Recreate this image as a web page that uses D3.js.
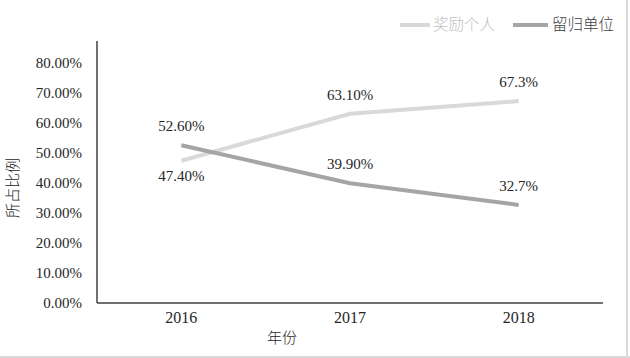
<!DOCTYPE html>
<html>
<head>
<meta charset="utf-8">
<script src="https://cdn.jsdelivr.net/npm/d3@7"></script>
<style>
  body { margin: 0; background: #fff; }
  svg { display: block; }
  .serif { font-family: "Liberation Serif", "DejaVu Serif", serif; fill: #262626; }
  .cjk { font-family: "Noto Sans CJK SC", sans-serif; font-weight: 300; }
</style>
</head>
<body>
<div id="chart"></div>
<script>
// data
var years = ['2016', '2017', '2018'];
var yTicks = [0, 0.1, 0.2, 0.3, 0.4, 0.5, 0.6, 0.7, 0.8];
var rewardPerson = [0.474, 0.631, 0.673];   // 奖励个人
var keepUnit = [0.526, 0.399, 0.327];       // 留归单位
var rewardLabels = ['47.40%', '63.10%', '67.3%'];
var unitLabels = ['52.60%', '39.90%', '32.7%'];

var series = [
  {name: '奖励个人', values: rewardPerson, labels: rewardLabels, color: '#d9d9d9', textColor: '#bfbfbf', pos: ['below', 'above', 'above']},
  {name: '留归单位', values: keepUnit, labels: unitLabels, color: '#a5a5a5', textColor: '#404040', pos: ['above', 'above', 'above']}
];

var width = 630, height = 358;
var plotLeft = 97, plotRight = 603, plotTop = 41, plotBottom = 303;

var svg = d3.select('#chart')
  .append('svg')
  .attr('width', width)
  .attr('height', height);

// frame edges (right and bottom)
svg.append('line')
  .attr('x1', 627).attr('y1', 0).attr('x2', 627).attr('y2', height)
  .attr('stroke', '#d9d9d9').attr('stroke-width', 2);
svg.append('line')
  .attr('x1', 0).attr('y1', 357).attr('x2', width).attr('y2', 357)
  .attr('stroke', '#d9d9d9').attr('stroke-width', 2);

var x = d3.scaleBand()
  .domain(years)
  .range([plotLeft, plotRight]);

var y = d3.scaleLinear()
  .domain([0, 0.8])
  .range([plotBottom, 63]);

// y axis
var yAxis = svg.append('g')
  .attr('transform', `translate(${plotLeft},0)`)
  .call(d3.axisLeft(y).tickValues(yTicks).tickSize(0).tickPadding(15)
    .tickFormat(function(d){ return (d * 100).toFixed(2) + '%'; }));
yAxis.select('.domain').remove();
yAxis.selectAll('text')
  .attr('class', 'serif')
  .style('font-size', '15px')
  .attr('fill', '#262626');

// x axis
var xAxis = svg.append('g')
  .attr('transform', `translate(0,${plotBottom})`)
  .call(d3.axisBottom(x).tickSize(0).tickPadding(9));
xAxis.select('.domain').remove();
xAxis.selectAll('text')
  .attr('class', 'serif')
  .style('font-size', '16px')
  .attr('fill', '#262626');

// axis lines
svg.append('line')
  .attr('x1', plotLeft).attr('y1', plotTop).attr('x2', plotLeft).attr('y2', plotBottom)
  .attr('stroke', '#404040').attr('stroke-width', 1.5);
svg.append('line')
  .attr('x1', plotLeft).attr('y1', plotBottom).attr('x2', plotRight).attr('y2', plotBottom)
  .attr('stroke', '#404040').attr('stroke-width', 1.5);

// axis titles
svg.append('text')
  .attr('class', 'cjk')
  .attr('x', 282).attr('y', 343)
  .attr('text-anchor', 'middle')
  .style('font-size', '15px')
  .attr('fill', '#262626')
  .text('年份');

svg.append('text')
  .attr('class', 'cjk')
  .attr('transform', 'translate(18,188) rotate(-90)')
  .attr('text-anchor', 'middle')
  .style('font-size', '15px')
  .attr('fill', '#262626')
  .text('所占比例');

var line = d3.line()
  .x(function(d, i){ return x(years[i]) + x.bandwidth() / 2; })
  .y(function(d){ return y(d); });

series.forEach(function(s){
  svg.append('path')
    .datum(s.values)
    .attr('d', line)
    .attr('fill', 'none')
    .attr('stroke', s.color)
    .attr('stroke-width', 4);
});

series.forEach(function(s){
  svg.selectAll(null)
    .data(s.values)
    .enter()
    .append('text')
    .attr('class', 'serif')
    .attr('x', function(d, i){ return x(years[i]) + x.bandwidth() / 2; })
    .attr('y', function(d, i){ return s.pos[i] == 'below' ? y(d) + 20 : y(d) - 14; })
    .attr('text-anchor', 'middle')
    .style('font-size', '15px')
    .text(function(d, i){ return s.labels[i]; });
});

// legend
var legendX = [400, 513];
series.forEach(function(s, i){
  var g = svg.append('g').attr('transform', `translate(${legendX[i]},25)`);
  g.append('line')
    .attr('x1', 0).attr('x2', i == 0 ? 30 : 35)
    .attr('y1', 0).attr('y2', 0)
    .attr('stroke', s.color).attr('stroke-width', 4);
  g.append('text')
    .attr('class', 'cjk')
    .attr('x', i == 0 ? 33 : 39)
    .attr('y', 5)
    .style('font-size', '15.5px')
    .attr('fill', s.textColor)
    .text(s.name);
});
</script>
</body>
</html>
